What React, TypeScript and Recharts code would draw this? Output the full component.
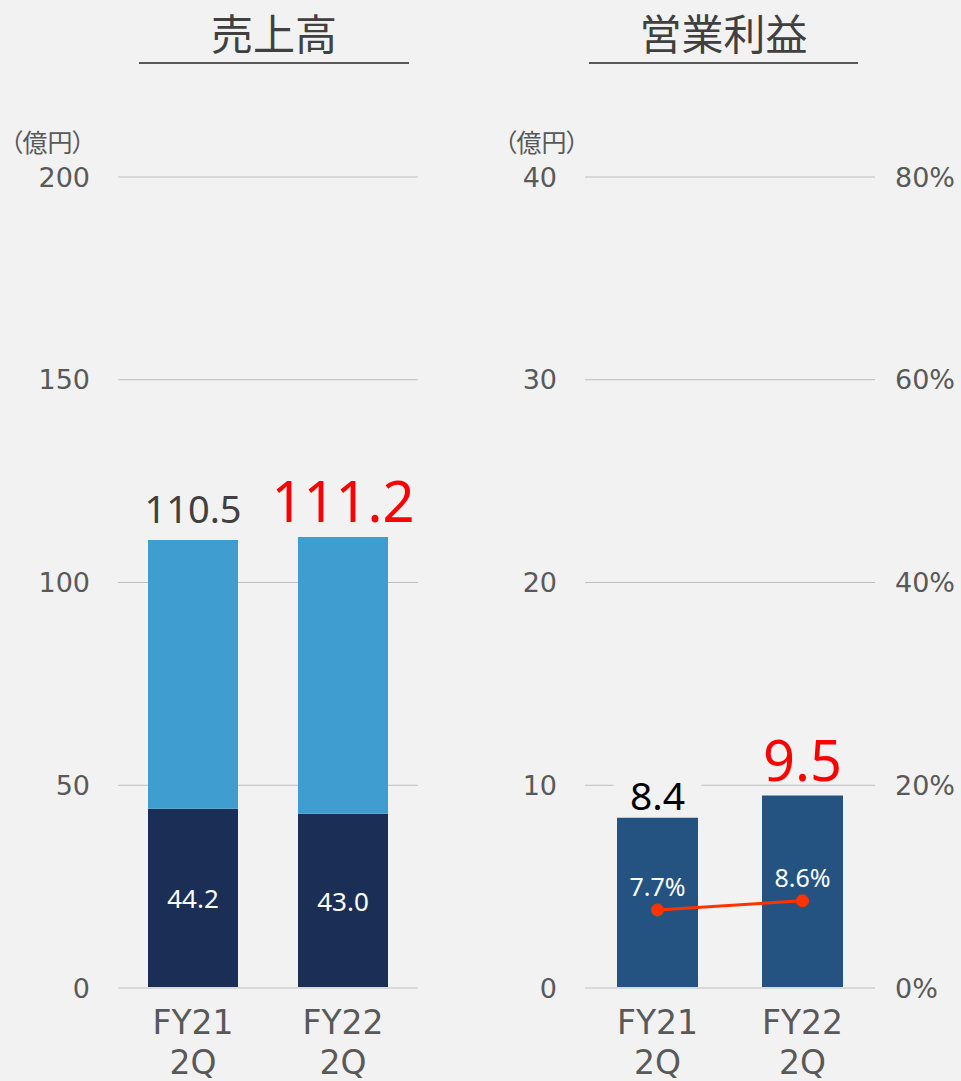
import React from 'react';
import {
  BarChart, ComposedChart, Bar, Line, XAxis, YAxis, CartesianGrid, LabelList, ReferenceLine,
} from 'recharts';

// ---- data ----
const categories = ['FY21\n2Q', 'FY22\n2Q'];
const salesTotal = [110.5, 111.2];
const salesBase = [44.2, 43.0];
const profitValues = [8.4, 9.5];
const marginValues = [7.7, 8.6];
const salesTicks = [0, 50, 100, 150, 200];
const profitTicks = [0, 10, 20, 30, 40];
const marginTicks = [0, 20, 40, 60, 80];
const salesTitle = '売上高';
const profitTitle = '営業利益';
const unitLabel = '（億円）';

const salesData = categories.map((c, i) => ({
  cat: c,
  base: salesBase[i],
  upper: +(salesTotal[i] - salesBase[i]).toFixed(1),
  total: salesTotal[i],
}));
const profitData = categories.map((c, i) => ({
  cat: c,
  profit: profitValues[i],
  margin: marginValues[i],
}));

const FONT = '"Noto Sans CJK JP", "Noto Sans", sans-serif';
const NUM = '"Noto Sans", "Noto Sans CJK JP", sans-serif';
const AXF = '"DejaVu Sans", "Noto Sans", sans-serif';
const TICK = '#595959';
const BG = '#f2f2f2';

const topLabelStyles = [
  { color: '#404040', size: 38, gap: 17, bg: false },
  { color: '#ff0000', size: 56, gap: 15, bg: false },
];
const profitLabelStyles = [
  { color: '#000000', size: 39, gap: 8, bg: true },
  { color: '#ff0000', size: 56, gap: 14, bg: false },
];

const renderXTick = (props: any) => {
  const { x, y, payload } = props;
  const lines = String(payload.value).split('\n');
  return (
    <g>
      {lines.map((l, i) => (
        <text key={i} x={x} y={y + 34 + i * 40} textAnchor="middle" dominantBaseline="central"
          fontFamily={AXF} fontSize={33} fill={TICK}>{l}</text>
      ))}
    </g>
  );
};

const makeYTick = (anchor: 'end' | 'start', suffix: string) => (props: any) => {
  const { x, y, payload } = props;
  return (
    <text x={x} y={y} textAnchor={anchor} dominantBaseline="central" fontFamily={AXF}
      fontSize={27} fill={TICK}>{payload.value}{suffix}</text>
  );
};

const salesTopLabel = (props: any) => {
  const { x, y, width, value, index } = props;
  const s = topLabelStyles[index];
  return (
    <text x={x + width / 2} y={y - s.gap} textAnchor="middle" fontFamily={NUM}
      fontSize={s.size} fill={s.color}>{Number(value).toFixed(1)}</text>
  );
};

const salesInnerLabel = (props: any) => {
  const { x, y, width, height, value } = props;
  return (
    <text x={x + width / 2} y={y + height / 2} textAnchor="middle" dominantBaseline="central"
      fontFamily={NUM} fontSize={26} fill="#ffffff">{Number(value).toFixed(1)}</text>
  );
};

const profitTopLabel = (props: any) => {
  const { x, y, width, value, index } = props;
  const s = profitLabelStyles[index];
  const cx = x + width / 2;
  return (
    <g>
      {s.bg && <rect x={cx - 44} y={y - s.gap - s.size * 0.8} width={88} height={s.size * 0.8 + 4} fill={BG} />}
      <text x={cx} y={y - s.gap} textAnchor="middle" fontFamily={NUM} fontSize={s.size}
        fill={s.color}>{Number(value).toFixed(1)}</text>
    </g>
  );
};

const marginLabel = (props: any) => {
  const { x, y, value } = props;
  return (
    <text x={x} y={y - 24} textAnchor="middle" dominantBaseline="central" fontFamily={NUM}
      fontSize={25} fill="#ffffff">{Number(value).toFixed(1)}%</text>
  );
};

const Title = ({ text, left, width }: { text: string; left: number; width: number }) => (
  <div style={{ position: 'absolute', left, top: 0, width, textAlign: 'center' }}>
    <div style={{ fontFamily: FONT, fontSize: 42, color: '#404040', lineHeight: '64px', height: 62 }}>{text}</div>
    <div style={{ height: 2, background: '#595959' }} />
  </div>
);

const unitStyle: React.CSSProperties = {
  position: 'absolute', top: 124, fontFamily: FONT, fontSize: 25, color: TICK,
  whiteSpace: 'nowrap', fontFeatureSettings: '"palt"', lineHeight: '34px',
};

export default function App() {
  return (
    <div style={{ position: 'absolute', left: 0, top: 0, width: 961, height: 1081, background: BG, overflow: 'hidden' }}>
      <Title text={salesTitle} left={139} width={270} />
      <Title text={profitTitle} left={589} width={269} />
      <div style={{ ...unitStyle, left: 10 }}>{unitLabel}</div>
      <div style={{ ...unitStyle, left: 504 }}>{unitLabel}</div>

      <div style={{ position: 'absolute', left: 0, top: 0 }}>
        <BarChart width={480} height={1081} data={salesData} barSize={90}
          margin={{ top: 177, right: 62, left: 0, bottom: 0 }}>
          <CartesianGrid vertical={false} stroke="#bfbfbf" strokeWidth={1} />
          <XAxis dataKey="cat" axisLine={false} tickLine={false} tickSize={0} tickMargin={0}
            height={93} interval={0} tick={renderXTick} />
          <YAxis width={118} domain={[0, 200]} ticks={salesTicks} axisLine={false} tickLine={false}
            tickSize={0} tickMargin={28} tick={makeYTick('end', '')} />
          <ReferenceLine y={0} stroke="#d9d9d9" strokeWidth={2} />
          <Bar dataKey="base" stackId="s" fill="#1b2f56" isAnimationActive={false}>
            <LabelList dataKey="base" content={salesInnerLabel} />
          </Bar>
          <Bar dataKey="upper" stackId="s" fill="#409dcf" isAnimationActive={false}>
            <LabelList dataKey="total" content={salesTopLabel} />
          </Bar>
        </BarChart>
      </div>

      <div style={{ position: 'absolute', left: 480, top: 0 }}>
        <ComposedChart width={481} height={1081} data={profitData} barSize={81}
          margin={{ top: 177, right: 0, left: 0, bottom: 0 }}>
          <CartesianGrid vertical={false} stroke="#bfbfbf" strokeWidth={1} yAxisId="left" />
          <XAxis dataKey="cat" axisLine={false} tickLine={false} tickSize={0} tickMargin={0}
            height={93} interval={0} tick={renderXTick} />
          <YAxis yAxisId="left" width={105} domain={[0, 40]} ticks={profitTicks} axisLine={false}
            tickLine={false} tickSize={0} tickMargin={28} tick={makeYTick('end', '')} />
          <YAxis yAxisId="right" orientation="right" width={86} domain={[0, 80]} ticks={marginTicks}
            axisLine={false} tickLine={false} tickSize={0} tickMargin={20} tick={makeYTick('start', '%')} />
          <ReferenceLine yAxisId="left" y={0} stroke="#d9d9d9" strokeWidth={2} />
          <Bar yAxisId="left" dataKey="profit" fill="#255381" isAnimationActive={false}>
            <LabelList dataKey="profit" content={profitTopLabel} />
          </Bar>
          <Line yAxisId="right" dataKey="margin" stroke="#ff3300" strokeWidth={3}
            dot={{ r: 6, fill: '#ff3300', stroke: '#ff3300', strokeWidth: 1 }} isAnimationActive={false}>
            <LabelList dataKey="margin" content={marginLabel} />
          </Line>
        </ComposedChart>
      </div>
    </div>
  );
}
